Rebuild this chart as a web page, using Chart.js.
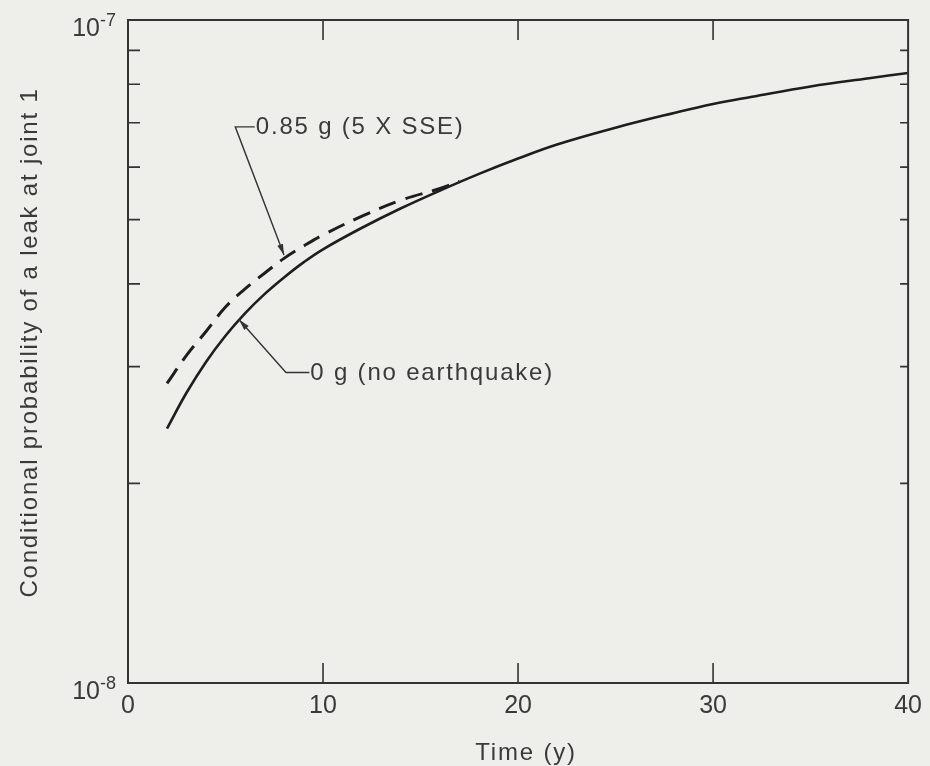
<!DOCTYPE html>
<html>
<head>
<meta charset="utf-8">
<title>Conditional probability of a leak at joint 1</title>
<script src="https://cdn.jsdelivr.net/npm/chart.js@4/dist/chart.umd.min.js"></script>
<style>
  html, body { margin: 0; padding: 0; background: #eeeeeb; }
  canvas { display: block; }
</style>
</head>
<body>
<canvas id="leak-chart" width="930" height="766"></canvas>
<script>
// values (probability, log axis)
const years = [2, 3, 4, 5, 6, 7, 8, 9, 10, 12, 14, 16, 18, 20, 22, 25, 28, 30, 32, 35, 38, 40];
const noQuake = [2.42e-8, 2.74e-8, 3.05e-8, 3.34e-8, 3.61e-8, 3.86e-8, 4.09e-8, 4.31e-8, 4.51e-8, 4.86e-8,
                 5.20e-8, 5.53e-8, 5.86e-8, 6.18e-8, 6.49e-8, 6.88e-8, 7.24e-8, 7.47e-8, 7.66e-8, 7.94e-8,
                 8.17e-8, 8.32e-8];

const quakeYears = [2, 3, 4, 5, 6, 7, 8, 9, 10, 12, 14, 16, 17];
const quake085 = [2.83e-8, 3.12e-8, 3.39e-8, 3.69e-8, 3.93e-8, 4.15e-8, 4.37e-8, 4.56e-8, 4.74e-8, 5.06e-8,
                  5.35e-8, 5.57e-8, 5.71e-8];

const xTickValues = [0, 10, 20, 30, 40];
const yMinorTicks = [2e-8, 3e-8, 4e-8, 5e-8, 6e-8, 7e-8, 8e-8, 9e-8];
const yLabels = [{value: 1e-7, exp: '-7'}, {value: 1e-8, exp: '-8'}];

const xTitle = 'Time (y)';
const yTitle = 'Conditional probability of a leak at joint 1';

const ink = '#1e1e1e';
const textInk = '#3a3a3a';
const fontFamily = '"Liberation Sans", Arial, Helvetica, sans-serif';

// arrow head helper
function arrowHead(ctx, x1, y1, x2, y2, len, half) {
    const ang = Math.atan2(y2 - y1, x2 - x1);
    ctx.beginPath();
    ctx.moveTo(x2, y2);
    ctx.lineTo(x2 - len * Math.cos(ang) + half * Math.sin(ang), y2 - len * Math.sin(ang) - half * Math.cos(ang));
    ctx.lineTo(x2 - len * Math.cos(ang) - half * Math.sin(ang), y2 - len * Math.sin(ang) + half * Math.cos(ang));
    ctx.closePath();
    ctx.fill();
}

// callout: elbow + leader to a point on a curve, text right of the elbow
function callout(ctx, x, y, c) {
    const ex = x.getPixelForValue(c.elbow[0]), ey = y.getPixelForValue(c.elbow[1]);
    const sx = x.getPixelForValue(c.textAt);
    const tx = x.getPixelForValue(c.tip[0]), ty = y.getPixelForValue(c.tip[1]);
    ctx.beginPath();
    ctx.moveTo(sx, ey); ctx.lineTo(ex, ey); ctx.lineTo(tx, ty);
    ctx.stroke();
    ctx.fillStyle = '#333';
    arrowHead(ctx, ex, ey, tx, ty, 11, 3);
    ctx.fillStyle = textInk;
    ctx.fillText(c.text, sx + 1, ey + 1);
}

// frame, inward ticks, y labels, titles and the two callouts
const framePlugin = {
    id: 'frame',
    afterDraw(chart) {
        const {ctx, chartArea: a, scales: {x, y}} = chart;
        ctx.save();
        ctx.strokeStyle = '#333';
        ctx.lineWidth = 2;
        ctx.strokeRect(a.left, a.top, a.right - a.left, a.bottom - a.top);

        ctx.beginPath();
        yMinorTicks.forEach(v => {
            const py = y.getPixelForValue(v);
            ctx.moveTo(a.left, py); ctx.lineTo(a.left + 12, py);
            ctx.moveTo(a.right, py); ctx.lineTo(a.right - 8, py);
        });
        xTickValues.slice(1, -1).forEach(v => {
            const px = x.getPixelForValue(v);
            ctx.moveTo(px, a.bottom); ctx.lineTo(px, a.bottom - 20);
            ctx.moveTo(px, a.top); ctx.lineTo(px, a.top + 20);
        });
        ctx.lineWidth = 1.6;
        ctx.stroke();

        // 10^n labels
        ctx.fillStyle = textInk;
        ctx.textAlign = 'right';
        ctx.textBaseline = 'middle';
        yLabels.forEach(l => {
            const py = y.getPixelForValue(l.value);
            const right = a.left - 12;
            ctx.font = '18px ' + fontFamily;
            const w = ctx.measureText(l.exp).width;
            ctx.fillText(l.exp, right, py + 1);
            ctx.font = '25px ' + fontFamily;
            ctx.fillText('10', right - w, py + 9);
        });

        // titles and callouts use the wide-set lettering of the original
        ctx.font = '24px ' + fontFamily;
        ctx.letterSpacing = '1.8px';
        ctx.textAlign = 'center';
        ctx.fillText(xTitle, (a.left + a.right) / 2 + 8, 753);
        ctx.save();
        ctx.translate(30, (a.top + a.bottom) / 2 - 9);
        ctx.rotate(-Math.PI / 2);
        ctx.fillText(yTitle, 0, 0);
        ctx.restore();

        ctx.textAlign = 'left';
        ctx.strokeStyle = '#333';
        ctx.lineWidth = 1.4;
        callout(ctx, x, y, {text: '0.85 g (5 X SSE)', textAt: 6.5, elbow: [5.5, 6.9e-8], tip: [8.0, 4.42e-8]});
        callout(ctx, x, y, {text: '0 g (no earthquake)', textAt: 9.3, elbow: [8.1, 2.94e-8], tip: [5.7, 3.53e-8]});
        ctx.restore();
    }
};

const leakChart = document.querySelector('#leak-chart').getContext('2d');

const leakGraph = new Chart(leakChart, {
    type: 'line',
    data: {
        datasets: [
            {
                label: '0 g (no earthquake)',
                data: years.map((t, i) => ({x: t, y: noQuake[i]})),
                borderColor: ink,
                borderWidth: 2.6,
                pointRadius: 0,
                tension: 0.4
            },
            {
                label: '0.85 g (5 X SSE)',
                data: quakeYears.map((t, i) => ({x: t, y: quake085[i]})),
                borderColor: ink,
                borderWidth: 3,
                borderDash: [18, 10],
                pointRadius: 0,
                tension: 0.4
            }
        ]
    },
    options: {
        responsive: false,
        animation: false,
        layout: {padding: {top: 20, right: 20, left: 0, bottom: 0}},
        plugins: {
            legend: {display: false},
            tooltip: {enabled: false}
        },
        scales: {
            x: {
                type: 'linear',
                min: 0,
                max: 40,
                grid: {display: false, drawTicks: false},
                border: {display: false},
                afterBuildTicks: s => { s.ticks = xTickValues.map(v => ({value: v})); },
                ticks: {color: textInk, font: {family: fontFamily, size: 25}, padding: 8, maxRotation: 0},
                afterFit: s => { s.height = 83; }
            },
            y: {
                type: 'logarithmic',
                min: 1e-8,
                max: 1e-7,
                grid: {display: false, drawTicks: false},
                border: {display: false},
                ticks: {display: false},
                afterFit: s => { s.width = 128; }
            }
        }
    },
    plugins: [framePlugin]
});
</script>
</body>
</html>
